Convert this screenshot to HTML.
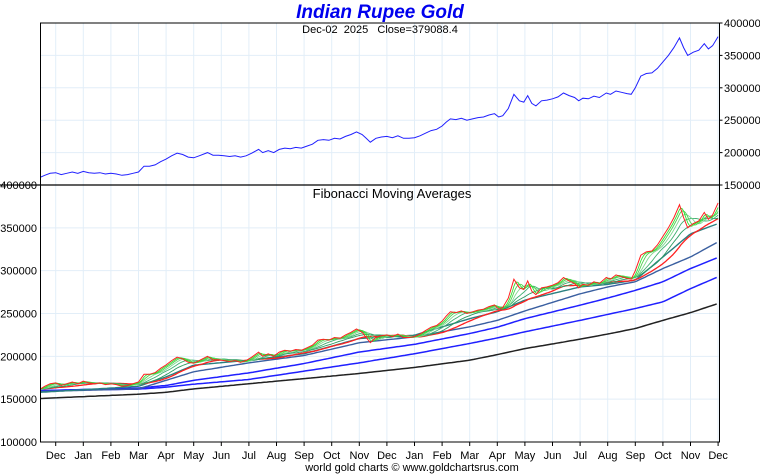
<!DOCTYPE html>
<html><head><meta charset="utf-8"><style>
body{margin:0;background:#fff;}
svg{display:block;font-family:"Liberation Sans",sans-serif;}
</style></head><body>
<svg id="c" width="760" height="475"></svg>
<script>
// ===== data =====
const monthLabels=["Dec","Jan","Feb","Mar","Apr","May","Jun","Jul","Aug","Sep","Oct","Nov","Dec","Jan","Feb","Mar","Apr","May","Jun","Jul","Aug","Sep","Oct","Nov","Dec"];
const topTicks=[150000,200000,250000,300000,350000,400000];
const botTicks=[100000,150000,200000,250000,300000,350000,400000];
const priceT=[-0.55,-0.4,-0.2,0,0.2,0.4,0.6,0.8,1,1.2,1.4,1.6,1.8,2,2.2,2.4,2.6,2.8,3.0,3.2,3.4,3.6,3.8,4.0,4.2,4.4,4.6,4.8,5.0,5.2,5.5,5.7,5.9,6.1,6.3,6.5,6.7,6.9,7.1,7.35,7.5,7.7,7.9,8.1,8.3,8.5,8.7,8.9,9.1,9.3,9.5,9.7,9.9,10.1,10.3,10.5,10.7,10.9,11.1,11.25,11.4,11.6,11.8,12.0,12.2,12.4,12.6,12.8,13.0,13.2,13.4,13.6,13.8,14.0,14.15,14.3,14.5,14.7,14.9,15.1,15.3,15.5,15.7,15.9,16.05,16.2,16.4,16.6,16.8,16.96,17.1,17.25,17.4,17.6,17.8,18.0,18.2,18.4,18.6,18.8,18.95,19.1,19.3,19.5,19.7,19.95,20.1,20.3,20.5,20.7,20.85,21.0,21.2,21.4,21.6,21.8,22.0,22.2,22.4,22.6,22.75,22.9,23.1,23.3,23.5,23.65,23.8,24.0];
const priceV=[162,165,168,169,166,168,170,168,171,169,168,169,167,168,167,165,166,168,170,179,179,181,186,190,195,199,197,193,192,195,200,196,196,195,194,195,193,195,199,205,200,203,200,205,207,206,208,207,210,213,219,220,219,222,221,225,228,232,228,222,216,222,224,225,223,226,222,222,223,226,230,234,236,241,247,252,251,253,250,252,254,255,258,260,255,257,268,290,280,278,288,276,272,280,281,283,286,292,288,285,280,284,283,287,285,292,290,295,293,291,290,300,318,322,323,330,340,350,362,377,362,350,355,358,368,360,365,379.0884];
const maT=[-0.55,3,4,5,7,9,11,13,15,16,17,19,20,21,22,23,24];
const maTeal=[158,165,176,189.7,195.5,203,220.8,224.7,244,252,265.6,281,284,289,316,343,355];
const maSlate=[159,162,172,182,192.4,201,215.8,222.8,234.4,242,253,273,281,287,302.5,316,333.7];
const maBlue1=[160,163,166,172,180.7,191.6,205,214,226.6,234,244,259.7,268,277,287,302.5,315.4];
const maBlue2=[160,161.7,164,167.5,173,182.7,192.4,203,215,221.5,228.6,242,249,255.8,263.6,279,292.8];
const maBlack=[150.8,155.8,158,162,168,174,180,187,195.5,202,209,220,226,232.5,242,251,261.7];
const shortWindows=[4,7,11,17,26,40];
const shortColors=["#30e030","#50d050","#80d890","#40b070","#2a9a60","#ff2020"];

// ===== scales =====
const X=t=>55.7+t*27.6;
const L=40.5,R=719.5;
const YT=v=>23+(400000-v)/250000*162;
const YB=v=>185+(400000-v)/300000*257;
const NS="http://www.w3.org/2000/svg";
const svg=document.getElementById("c");
function mk(tag,attrs,parent){const e=document.createElementNS(NS,tag);for(const k in attrs)e.setAttribute(k,attrs[k]);(parent||svg).appendChild(e);return e;}
function interp(ts,vs,t){if(t<=ts[0])return vs[0];for(let i=1;i<ts.length;i++){if(t<=ts[i]){const f=(t-ts[i-1])/(ts[i]-ts[i-1]);return vs[i-1]+f*(vs[i]-vs[i-1]);}}return vs[vs.length-1];}

// grid
const grid=mk("g",{});


for(let i=0;i<monthLabels.length;i++){const x=X(i);mk("line",{x1:x,x2:x,y1:23,y2:442,stroke:"#e2eef8","stroke-width":1},grid);}
topTicks.forEach(v=>mk("line",{x1:L,x2:R,y1:YT(v),y2:YT(v),stroke:"#e2eef8"},grid));
botTicks.forEach(v=>mk("line",{x1:L,x2:R,y1:YB(v),y2:YB(v),stroke:"#e2eef8"},grid));

// price top
const pts=priceT.map((t,i)=>X(t).toFixed(1)+","+YT(priceV[i]*1000).toFixed(1)).join(" ");
const pl=mk("polyline",{points:pts,fill:"none",stroke:"#2020ff","stroke-width":1});



// moving averages
function drawSeries(ts,vs,color,name,w){
  const p=[];for(let t=-0.55;t<=24.001;t+=0.1)p.push(X(t).toFixed(1)+","+YB(interp(ts,vs,t)*1000).toFixed(1));
  const e=mk("polyline",{points:p.join(" "),fill:"none",stroke:color,"stroke-width":w||1.3});
  
  
}
drawSeries(maT,maBlack,"#222","ma-black",1.5);
drawSeries(maT,maBlue2,"#2020ff","ma-blue-2",1.5);
drawSeries(maT,maBlue1,"#2020ff","ma-blue-1",1.5);
drawSeries(maT,maSlate,"#3a5fa0","ma-slate",1.4);
drawSeries(maT,maTeal,"#2a8080","ma-teal",1.4);
// short MAs from price
const dt=0.05,samples=[],times=[];
for(let t=-0.55;t<=24.0001;t+=dt){times.push(t);samples.push(interp(priceT,priceV,t));}
for(let k=shortWindows.length-1;k>=0;k--){
  const w=shortWindows[k],p=[];
  for(let i=0;i<samples.length;i++){let s=0;for(let j=0;j<w;j++)s+=samples[Math.max(0,i-j)];p.push(X(times[i]).toFixed(1)+","+YB(s/w*1000).toFixed(1));}
  const e=mk("polyline",{points:p.join(" "),fill:"none",stroke:shortColors[k],"stroke-width":k==5?1.3:0.9});
  
  
}
const p2=priceT.map((t,i)=>X(t).toFixed(1)+","+YB(priceV[i]*1000).toFixed(1)).join(" ");
const pl2=mk("polyline",{points:p2,fill:"none",stroke:"#ff2020","stroke-width":1});



// frames
mk("rect",{x:L,y:23,width:R-L,height:419,fill:"none",stroke:"#000","stroke-width":1});
mk("line",{x1:0,x2:R,y1:185,y2:185,stroke:"#000","stroke-width":1.2});

// axis labels
topTicks.forEach(v=>{const t=mk("text",{x:724,y:YT(v)+4,"font-size":11});t.textContent=v;

mk("line",{x1:R,x2:R+3,y1:YT(v),y2:YT(v),stroke:"#000"});});
botTicks.forEach(v=>{const t=mk("text",{x:37,y:YB(v)+4,"font-size":11,"text-anchor":"end"});t.textContent=v;
});
monthLabels.forEach((m,i)=>{const x=X(i);mk("line",{x1:x,x2:x,y1:442,y2:446,stroke:"#000"});
const t=mk("text",{x:x,y:459,"font-size":11,"text-anchor":"middle"});t.textContent=m;
});
</script>
<div style="position:absolute;left:0;top:0;width:760px;height:475px;pointer-events:none;font-family:'Liberation Sans',sans-serif;">
<div style="position:absolute;left:0;width:760px;top:2px;text-align:center;color:#0000ee;font-size:19px;font-weight:bold;font-style:italic;">Indian Rupee Gold</div>
<div style="position:absolute;left:0;width:760px;top:24px;text-align:center;font-size:11px;">Dec-02&nbsp; 2025&nbsp;&nbsp; Close=379088.4</div>
<div style="position:absolute;left:0;width:784px;top:186px;text-align:center;font-size:13px;">Fibonacci Moving Averages</div>
<div style="position:absolute;left:0;width:824px;top:462px;text-align:center;font-size:11px;">world gold charts © www.goldchartsrus.com</div>
</div>
</body></html>
